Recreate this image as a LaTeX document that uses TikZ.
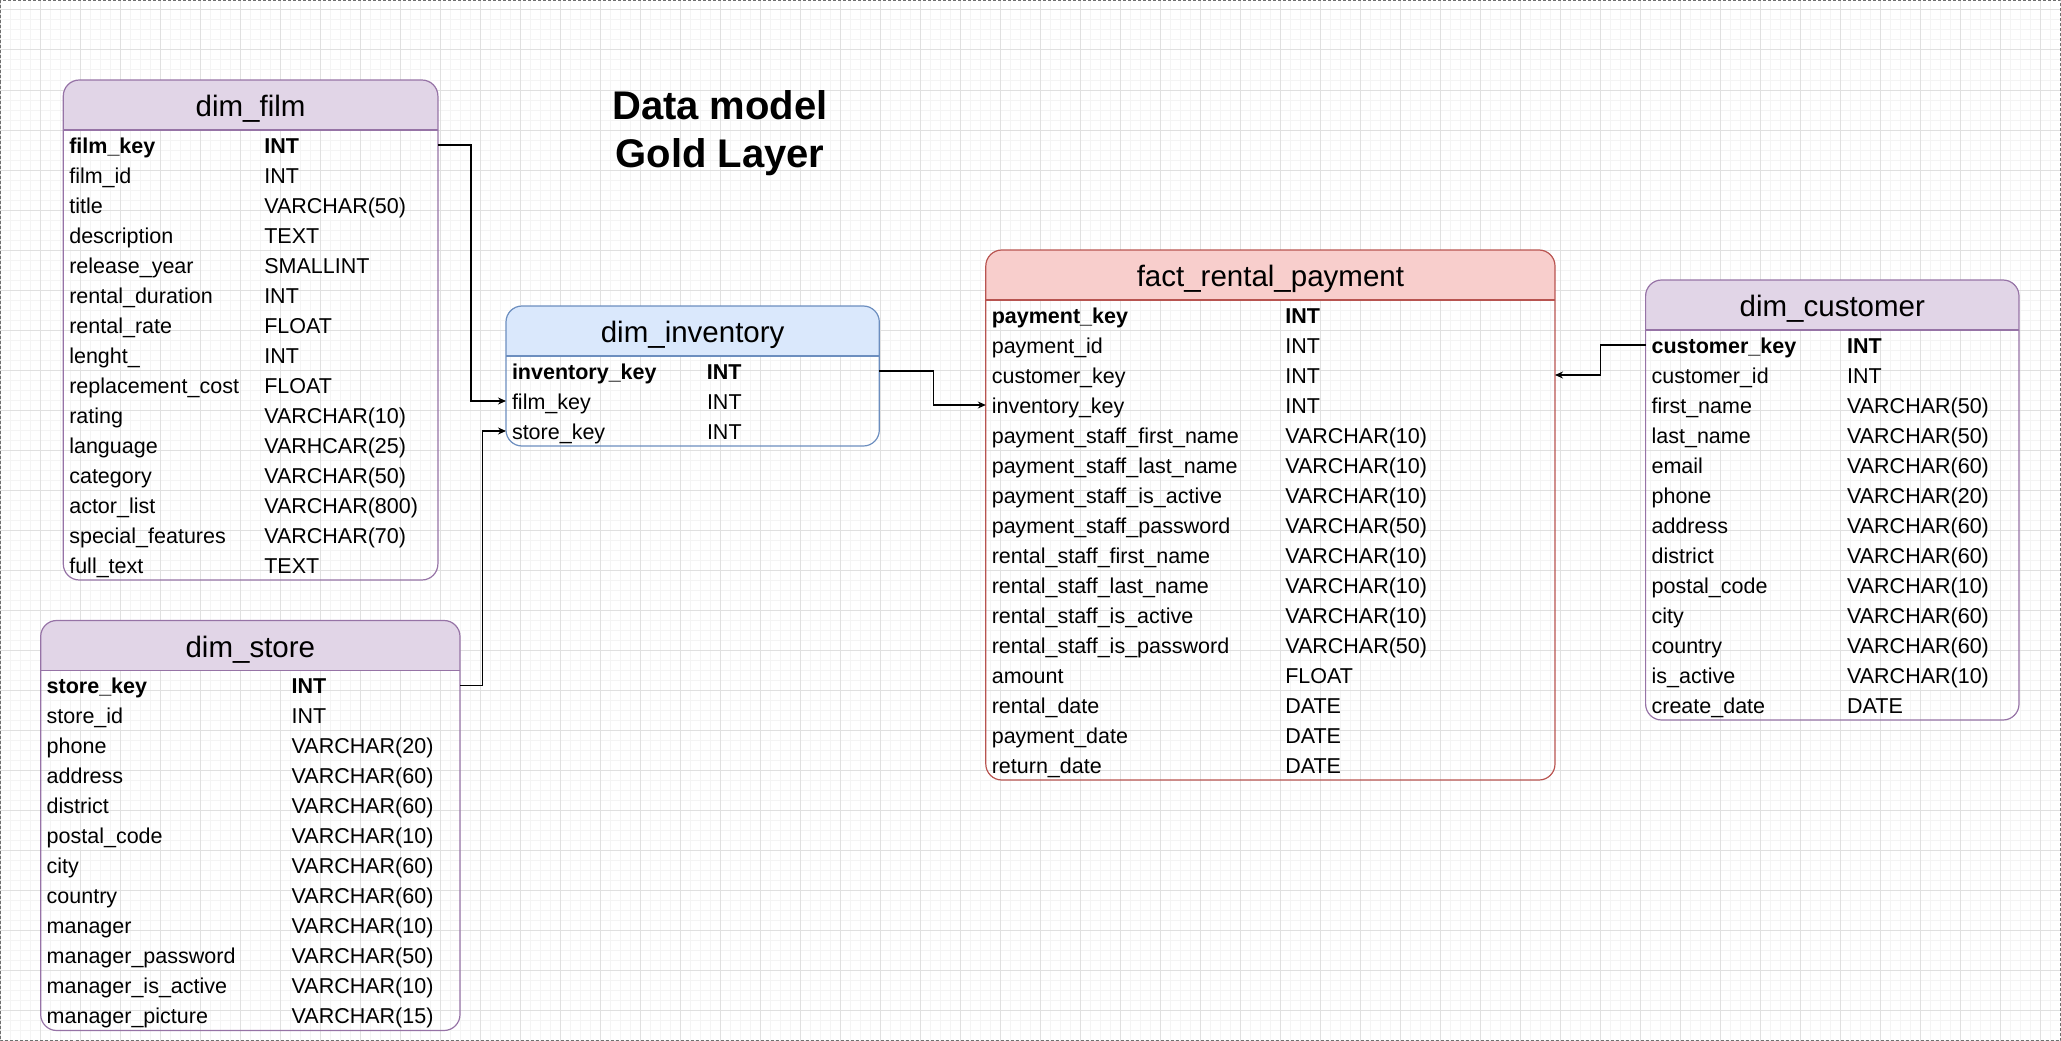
\documentclass[tikz,border=0pt]{standalone}
\usepackage{fontspec}
\setmainfont{Liberation Sans}
\usetikzlibrary{arrows.meta,positioning,calc,backgrounds}
\pgfdeclarelayer{grid}
\pgfsetlayers{grid,background,main}
\definecolor{cDim}{HTML}{9673A6}
\definecolor{cDimBg}{HTML}{E1D5E7}
\definecolor{cInv}{HTML}{6C8EBF}
\definecolor{cInvBg}{HTML}{DAE8FC}
\definecolor{cFact}{HTML}{B85450}
\definecolor{cFactBg}{HTML}{F8CECC}
\definecolor{cGridMaj}{HTML}{E0E0E0}
\definecolor{cGridMin}{HTML}{F4F4F4}
\definecolor{cPage}{HTML}{6E6E6E}

\newlength{\colw}
\newcommand{\fld}[2]{\makebox[\colw][l]{#1}#2}

\begin{document}
\begin{tikzpicture}[
    x=1pt, y=-1pt,
    >={Stealth[length=8pt,width=7pt]},
    every node/.style={text=black},
    gridminor/.style={draw=cGridMin, line width=1pt},
    gridmajor/.style={draw=cGridMaj, line width=1pt},
    tblhead/.style={
        anchor=north west, rounded corners=16pt, minimum height=50pt,
        inner sep=0pt, outer sep=0pt, text height=23.5pt, text depth=0pt,
        font=\fontsize{29.5}{34}\selectfont
    },
    fieldrow/.style={
        text width=#1, inner xsep=6pt, inner ysep=0pt, outer sep=0pt,
        minimum height=30pt, text height=16.5pt, text depth=0pt,
        align=left, font=\fontsize{21.5}{25}\selectfont
    },
    keyrow/.style={fieldrow=#1, font=\bfseries\fontsize{21.5}{25}\selectfont},
    tblframe/.style={line width=1.2pt, rounded corners=16pt},
    fk/.style={->, line width=1.2pt, draw=black},
    titlelbl/.style={font=\bfseries\fontsize{40}{48.6}\selectfont, align=center},
]
\useasboundingbox (0,0) rectangle (2061,1041);

% =====================================================
% Page grid
% =====================================================

\begin{pgfonlayer}{grid}
    \foreach \gx in {0,10,...,2060} \draw[gridminor] (\gx,0) -- (\gx,1041);
    \foreach \gy in {0,10,...,1040} \draw[gridminor] (0,\gy) -- (2061,\gy);
    \foreach \gx in {0,40,...,2040} \draw[gridmajor] (\gx,0) -- (\gx,1041);
    \foreach \gy in {10,50,...,1010} \draw[gridmajor] (0,\gy) -- (2061,\gy);
\end{pgfonlayer}

\node[titlelbl] (title) at (720,133) {Data model\\Gold Layer};

% =====================================================
% Dimension tables (left)
% =====================================================

% dim_film
\setlength{\colw}{195pt}
\node[tblhead, fill=cDimBg, minimum width=374.6pt] (film) at (63.3,80) {dim\_film};
\node[keyrow=362.6pt, below=0pt of film] (film-1) {\fld{film\_key}{INT}};
\foreach \fname/\ftype [count=\i from 2, remember=\i as \j (initially 1)] in
    {film\_id/INT, title/VARCHAR(50), description/TEXT, release\_year/SMALLINT,
     rental\_duration/INT, rental\_rate/FLOAT, lenght\_/INT, replacement\_cost/FLOAT,
     rating/VARCHAR(10), language/VARHCAR(25), category/VARCHAR(50),
     actor\_list/VARCHAR(800), special\_features/VARCHAR(70), full\_text/TEXT}
    \node[fieldrow=362.6pt, below=0pt of film-\j] (film-\i) {\fld{\fname}{\ftype}};

% dim_store
\setlength{\colw}{245pt}
\node[tblhead, fill=cDimBg, minimum width=419.3pt] (store) at (40.7,620.5) {dim\_store};
\node[keyrow=407.3pt, below=0pt of store] (store-1) {\fld{store\_key}{INT}};
\foreach \fname/\ftype [count=\i from 2, remember=\i as \j (initially 1)] in
    {store\_id/INT, phone/VARCHAR(20), address/VARCHAR(60), district/VARCHAR(60),
     postal\_code/VARCHAR(10), city/VARCHAR(60), country/VARCHAR(60),
     manager/VARCHAR(10), manager\_password/VARCHAR(50),
     manager\_is\_active/VARCHAR(10), manager\_picture/VARCHAR(15)}
    \node[fieldrow=407.3pt, below=0pt of store-\j] (store-\i) {\fld{\fname}{\ftype}};

% dim_inventory
\setlength{\colw}{195pt}
\node[tblhead, fill=cInvBg, minimum width=373.3pt] (inv) at (506,306) {dim\_inventory};
\node[keyrow=361.3pt, below=0pt of inv] (inv-1) {\fld{inventory\_key}{INT}};
\foreach \fname/\ftype [count=\i from 2, remember=\i as \j (initially 1)] in
    {film\_key/INT, store\_key/INT}
    \node[fieldrow=361.3pt, below=0pt of inv-\j] (inv-\i) {\fld{\fname}{\ftype}};

% =====================================================
% Fact table + customer
% =====================================================

% fact_rental_payment
\setlength{\colw}{293.5pt}
\node[tblhead, fill=cFactBg, minimum width=569.2pt] (fact) at (985.8,250) {fact\_rental\_payment};
\node[keyrow=557.2pt, below=0pt of fact] (fact-1) {\fld{payment\_key}{INT}};
\foreach \fname/\ftype [count=\i from 2, remember=\i as \j (initially 1)] in
    {payment\_id/INT, customer\_key/INT, inventory\_key/INT,
     payment\_staff\_first\_name/VARCHAR(10), payment\_staff\_last\_name/VARCHAR(10),
     payment\_staff\_is\_active/VARCHAR(10), payment\_staff\_password/VARCHAR(50),
     rental\_staff\_first\_name/VARCHAR(10), rental\_staff\_last\_name/VARCHAR(10),
     rental\_staff\_is\_active/VARCHAR(10), rental\_staff\_is\_password/VARCHAR(50),
     amount/FLOAT, rental\_date/DATE, payment\_date/DATE, return\_date/DATE}
    \node[fieldrow=557.2pt, below=0pt of fact-\j] (fact-\i) {\fld{\fname}{\ftype}};

% dim_customer
\setlength{\colw}{195.5pt}
\node[tblhead, fill=cDimBg, minimum width=373.4pt] (cust) at (1645.6,280) {dim\_customer};
\node[keyrow=361.4pt, below=0pt of cust] (cust-1) {\fld{customer\_key}{INT}};
\foreach \fname/\ftype [count=\i from 2, remember=\i as \j (initially 1)] in
    {customer\_id/INT, first\_name/VARCHAR(50), last\_name/VARCHAR(50),
     email/VARCHAR(60), phone/VARCHAR(20), address/VARCHAR(60), district/VARCHAR(60),
     postal\_code/VARCHAR(10), city/VARCHAR(60), country/VARCHAR(60),
     is\_active/VARCHAR(10), create\_date/DATE}
    \node[fieldrow=361.4pt, below=0pt of cust-\j] (cust-\i) {\fld{\fname}{\ftype}};

% frames, header rules, square header bottoms
\foreach \tb/\last/\col in {film/15/cDim, store/12/cDim, inv/3/cInv, fact/16/cFact, cust/13/cDim} {
    \begin{scope}[on background layer]
        \fill[\col Bg] ([yshift=17pt]\tb.south west) rectangle (\tb.south east);
    \end{scope}
    \draw[tblframe, draw=\col] (\tb.north west) rectangle (\tb-\last.south east);
    \draw[line width=1.2pt, draw=\col] (\tb.south west) -- (\tb.south east);
}

% =====================================================
% Key links
% =====================================================

\draw[fk] (film-1.east)  -- ++(33,0)   |- (inv-2.west);
\draw[fk] (store-1.east) -- ++(22.5,0) |- (inv-3.west);
\draw[fk] (inv-1.east)   -- ++(54,0)   |- (fact-4.west);
\draw[fk] (cust-1.west)  -- ++(-45,0)  |- (fact-3.east);

% page border
\draw[cPage, line width=1pt, dash pattern=on 3pt off 2pt] (0.5,0.5) rectangle (2060.5,1040.5);

\end{tikzpicture}
\end{document}
